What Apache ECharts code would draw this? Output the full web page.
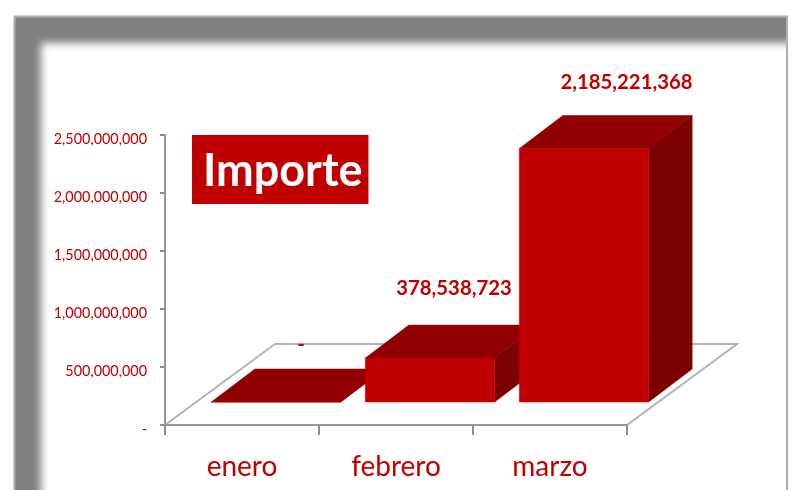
<!DOCTYPE html>
<html>
<head>
<meta charset="utf-8">
<style>
  html, body { margin: 0; padding: 0; background: #fff; }
  #chart { width: 793px; height: 490px; }
</style>
<script src="https://cdn.jsdelivr.net/npm/echarts@6/dist/echarts.min.js"></script>
</head>
<body>
<div id="chart"></div>
<script>
const categories = ['enero', 'febrero', 'marzo'];
const importe = [0, 378538723, 2185221368];
const yTickValues = [0, 500000000, 1000000000, 1500000000, 2000000000, 2500000000];

const FONT = 'Lato';
const RED = '#c00000';
const TOP_RED = '#900000';
const SIDE_RED = '#7d0000';
const AXIS_GREY = '#969696';
const TICK_GREY = '#8c8c8c';

// oblique projection of the excel 3d look, in pixels
const floorDepth = [110, -81];
const barShift = [34, -23];
const barDepth = [43.5, -33];
// data labels sit a bit differently for every bar
const labelShift = [[25, -25], [24, -37], [42.5, -33]];

function money(v) {
  return v === 0 ? '-' : v.toLocaleString('en-US');
}

function renderFloor(params) {
  const c = params.coordSys;
  const y = c.y + c.height;
  return {
    type: 'polygon',
    shape: {
      points: [
        [c.x, y],
        [c.x + floorDepth[0], y + floorDepth[1]],
        [c.x + c.width + floorDepth[0], y + floorDepth[1]],
        [c.x + c.width, y]
      ]
    },
    style: { fill: 'none', stroke: '#b4b4b4', lineWidth: 2 }
  };
}

function bar(x, y, w, h, color) {
  return { type: 'rect', shape: { x: x, y: y, width: w, height: h }, style: { fill: color } };
}

// axis lines and value ticks, on their own layer above the floor
function renderAxes(params, api) {
  const c = params.coordSys;
  const y = c.y + c.height;
  const children = [
    bar(c.x - 1, c.y - 1, 2, c.height + 2, AXIS_GREY),
    bar(c.x - 1, y - 1, c.width + 2, 2, AXIS_GREY)
  ];
  yTickValues.forEach(function (v) {
    children.push(bar(c.x - 5, api.coord([0, v])[1] - 1, 4, 2, TICK_GREY));
  });
  return { type: 'group', children: children };
}

function renderBar(params, api) {
  const i = api.value(0);
  const v = api.value(1);
  const base = api.coord([i, 0]);
  const top = api.coord([i, v]);
  const w = api.size([1, 0])[0] * 0.84;
  const x0 = base[0] + barShift[0] - w / 2;
  const x1 = x0 + w;
  const y0 = base[1] + barShift[1];
  const y1 = top[1] + barShift[1];
  const dx = barDepth[0];
  const dy = barDepth[1];
  return {
    type: 'group',
    children: [
      {
        type: 'polygon',
        shape: { points: [[x1, y0], [x1 + dx, y0 + dy], [x1 + dx, y1 + dy], [x1, y1]] },
        style: { fill: SIDE_RED, stroke: SIDE_RED, lineWidth: 0.5 }
      },
      {
        type: 'polygon',
        shape: { points: [[x0, y1], [x0 + dx, y1 + dy], [x1 + dx, y1 + dy], [x1, y1]] },
        style: { fill: TOP_RED, stroke: TOP_RED, lineWidth: 0.5 }
      },
      {
        type: 'rect',
        shape: { x: x0, y: y1, width: w, height: y0 - y1 },
        style: { fill: RED, stroke: RED, lineWidth: 0.5 }
      },
      {
        type: 'text',
        x: (x0 + x1) / 2 + labelShift[i][0],
        y: y1 + dy + labelShift[i][1],
        style: {
          text: money(v),
          fill: RED,
          font: 'bold 20.3px ' + FONT,
          textAlign: 'center',
          textVerticalAlign: 'middle'
        }
      }
    ]
  };
}

const chart = echarts.init(document.getElementById('chart'), null, { renderer: 'canvas' });

chart.setOption({
  animation: false,
  textStyle: { fontFamily: FONT },
  title: {
    text: 'Importe',
    left: 192,
    top: 135,
    padding: [14, 6, 10, 11],
    backgroundColor: RED,
    textStyle: { color: '#fff', fontFamily: FONT, fontWeight: 'bold', fontSize: 45 }
  },
  grid: { left: 165, top: 135, width: 462, height: 290 },
  xAxis: {
    type: 'category',
    data: categories,
    axisLine: { show: false },
    axisTick: { show: true, length: 10, lineStyle: { color: TICK_GREY, width: 2 } },
    axisLabel: { color: RED, fontSize: 28, margin: 28, fontFamily: FONT }
  },
  yAxis: {
    type: 'value',
    min: yTickValues[0],
    max: yTickValues[yTickValues.length - 1],
    interval: yTickValues[1] - yTickValues[0],
    splitLine: { show: false },
    axisLine: { show: false },
    axisTick: { show: false },
    axisLabel: {
      color: RED,
      fontSize: 14.4,
      margin: 18,
      fontFamily: FONT,
      verticalAlign: 'top',
      lineHeight: 8,
      formatter: money
    }
  },
  graphic: [
    { type: 'rect', zlevel: -1, silent: true, shape: { x: 15, y: 17, width: 772, height: 480 }, style: { fill: '#808080' } },
    {
      // white sheet pushed off canvas, only its blurred shadow lands on the frame
      type: 'rect',
      zlevel: -1,
      z: 1,
      silent: true,
      shape: { x: 41 - 2000, y: 43, width: 900, height: 600 },
      style: { fill: '#fff', shadowColor: '#fff', shadowBlur: 8, shadowOffsetX: 2000 }
    },
    { type: 'rect', zlevel: -1, z: 2, silent: true, shape: { x: 788, y: 0, width: 5, height: 490 }, style: { fill: '#fff' } },
    {
      type: 'polyline',
      zlevel: -1,
      z: 3,
      silent: true,
      shape: { points: [[14.5, 495], [14.5, 16.5], [787, 16.5], [787, 495]] },
      style: { fill: 'none', stroke: '#aeaeae', lineWidth: 2 }
    }
  ],
  series: [
    {
      type: 'custom',
      renderItem: renderFloor,
      data: [[0, 0]],
      silent: true,
      z: 1
    },
    {
      name: 'Importe',
      type: 'custom',
      renderItem: renderBar,
      encode: { x: 0, y: 1 },
      data: importe.map(function (v, i) { return [i, v]; }),
      z: 2
    },
    {
      type: 'custom',
      renderItem: renderAxes,
      data: [[0, 0]],
      silent: true,
      zlevel: 1
    }
  ]
});
</script>
</body>
</html>
